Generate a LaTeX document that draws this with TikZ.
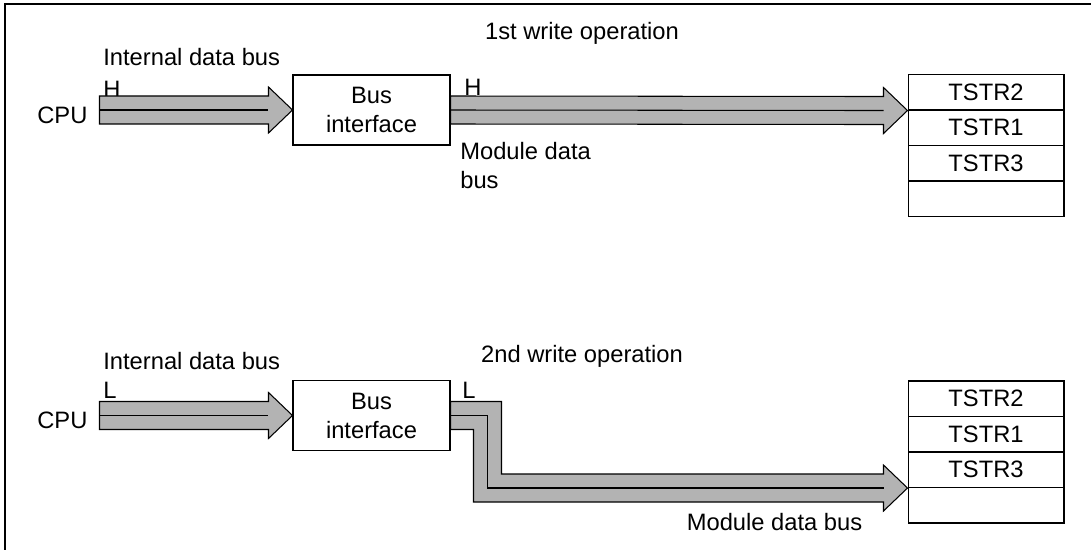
\documentclass[tikz,border=0pt]{standalone}
\usepackage{fontspec}
\setmainfont{Liberation Sans}
\usetikzlibrary{calc,positioning}
\definecolor{busfill}{RGB}{179,179,179}

\begin{document}
\begin{tikzpicture}[x=0.02cm,y=-0.02cm,
    lbl/.style={inner sep=0pt,font=\fontsize{13.5}{16.5}\selectfont},
    box/.style={draw,line width=0.6pt,minimum width=3.14cm,minimum height=1.4cm,
                inner sep=0pt,align=center,font=\fontsize{13.5}{16.5}\selectfont},
    reg/.style={draw,line width=0.6pt,minimum width=3.12cm,minimum height=0.71cm,
                inner sep=0pt,font=\fontsize{13.5}{16.5}\selectfont},
    bus/.style={draw,line width=0.6pt,fill=busfill,line join=miter},
    busmid/.style={draw,line width=0.6pt}]
    \useasboundingbox (0,0) rectangle (1091,550);
    \draw[line width=1.2pt] (5,550) -- (5,4) -- (1091,4);

    % 1st write operation
    \node[lbl] (op1) at (582,33) {1st write operation};
    \node[lbl,anchor=west] (ib1) at (103,57) {Internal data bus};
    \node[lbl,anchor=west] (h1) at (103,89) {H};
    \node[lbl,anchor=west] (cpu1) at (37,115) {CPU};
    \node[box] (bif1) at (371.5,110) {Bus\\interface};
    \node[lbl,anchor=west] (h2) at (464,87) {H};
    \node[lbl,anchor=west,align=left] (mdb1) at (460,166) {Module data\\bus};
    \foreach \t [count=\i] in {TSTR2,TSTR1,TSTR3,{}}
      \node[reg] (a\i) at (986,{92.25+35.5*(\i-1)}) {\t};

    % 2nd write operation
    \node[lbl] (op2) at (582,356) {2nd write operation};
    \node[lbl,anchor=west] (ib2) at (103,361) {Internal data bus};
    \node[lbl,anchor=west] (l1) at (103,390) {L};
    \node[lbl,anchor=west] (cpu2) at (37,420) {CPU};
    \node[box] (bif2) at (371.5,415.5) {Bus\\interface};
    \node[lbl,anchor=west] (l2) at (462,390) {L};
    \node[lbl] (mdb2) at (774.5,522) {Module data bus};
    \foreach \t [count=\i] in {TSTR2,TSTR1,TSTR3,{}}
      \node[reg] (b\i) at (986,{398.75+35.5*(\i-1)}) {\t};

    % bus arrows
    \path (bif1.west) ++(-193,0) coordinate (s1);
    \path (bif2.west) ++(-193,0) coordinate (s2);
    \foreach \a/\b in {s1/bif1.west,bif1.east/a1.south west,s2/bif2.west}{
      \draw[bus] ($(\a)+(0,-14)$) -- ($(\b)+(-24,-14)$) -- ++(0,-9) -- (\b)
        -- ++(-24,23) -- ++(0,-9) -- ($(\a)+(0,14)$) -- cycle;
      \draw[busmid] (\a) -- ($(\b)+(-24,0)$);
    }
    \path (b3.south west) ++(-420,0) coordinate (bend);
    \draw[bus] ($(bif2.east)+(0,-14)$) -| ($(bend)+(14,-14)$)
      -- ($(b3.south west)+(-24,-14)$) -- ++(0,-9) -- (b3.south west)
      -- ++(-24,23) -- ++(0,-9) -| ($(bend)+(-14,14)$)
      |- ($(bif2.east)+(0,14)$) -- cycle;
    \draw[busmid] (bif2.east) -| (bend) -- ($(b3.south west)+(-24,0)$);
  \end{tikzpicture}
\end{document}
